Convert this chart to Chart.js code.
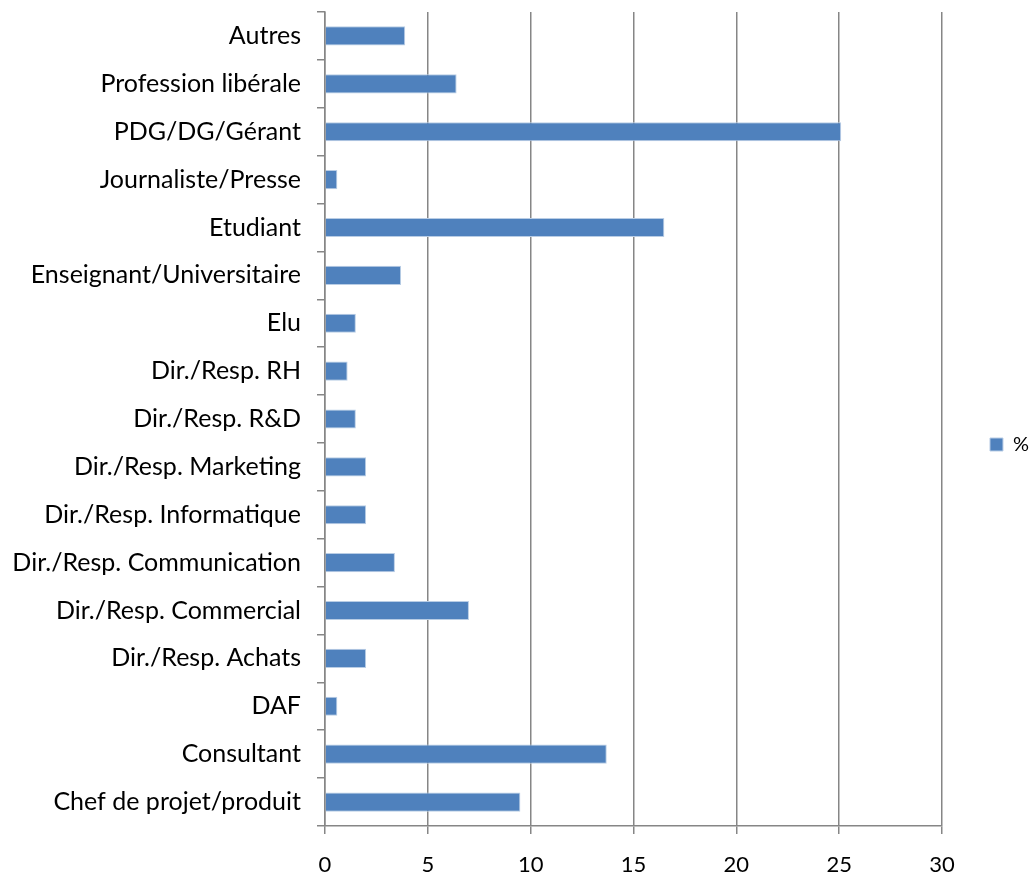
<!DOCTYPE html>
<html>
<head>
<meta charset="utf-8">
<script src="https://cdn.jsdelivr.net/npm/chart.js@4/dist/chart.umd.min.js"></script>
<style>
  html, body { margin: 0; padding: 0; background: #fff; }
  #wrap { width: 1032px; height: 877px; position: relative; }
</style>
</head>
<body>
<div id="wrap"><canvas id="chart"></canvas></div>
<script>
// categories, top to bottom
const categories = [
    'Autres', 'Profession libérale', 'PDG/DG/Gérant', 'Journaliste/Presse', 'Etudiant',
    'Enseignant/Universitaire', 'Elu', 'Dir./Resp. RH', 'Dir./Resp. R&D', 'Dir./Resp. Marketing',
    'Dir./Resp. Informatique', 'Dir./Resp. Communication', 'Dir./Resp. Commercial',
    'Dir./Resp. Achats', 'DAF', 'Consultant', 'Chef de projet/produit'
];
const percentValues = [3.9, 6.4, 25.1, 0.6, 16.5, 3.7, 1.5, 1.1, 1.5, 2.0, 2.0, 3.4, 7.0, 2.0, 0.6, 13.7, 9.5];
const seriesName = '%';
const xTicks = [0, 5, 10, 15, 20, 25, 30];

const axisGray = '#868686';
const fontFamily = 'Lato, "Open Sans", sans-serif';

new Chart(document.getElementById('chart'), {
    type: 'bar',
    data: {
        labels: categories,
        datasets: [{
            label: seriesName,
            data: percentValues,
            backgroundColor: '#4F81BD',
            borderColor: '#B9CDE5',
            borderWidth: 1,
            categoryPercentage: 1,
            barPercentage: 0.4
        }]
    },
    options: {
        indexAxis: 'y', responsive: true, maintainAspectRatio: false, animation: false,
        layout: { padding: { top: 12, right: -7, left: 4, bottom: 0 } },
        scales: {
            x: {
                min: xTicks[0], max: xTicks[xTicks.length - 1],
                afterBuildTicks: (axis) => { axis.ticks = xTicks.map(v => ({ value: v })); },
                afterFit: (scale) => { scale.height = 51; scale.paddingLeft = 0; scale.paddingRight = 0; },
                grid: { color: axisGray, lineWidth: 1.5, tickLength: 8 },
                border: { color: axisGray, width: 1.5 },
                ticks: { color: '#000', font: { family: fontFamily, size: 22 }, padding: 18 }
            },
            y: {
                afterFit: (scale) => { scale.width = 321; scale.paddingTop = 0; scale.paddingBottom = 0; },
                grid: { drawOnChartArea: false, color: axisGray, lineWidth: 1.5, tickLength: 8 },
                border: { color: axisGray, width: 1.5 },
                ticks: { color: '#000', font: { family: fontFamily, size: 25 }, padding: 16, autoSkip: false }
            }
        },
        plugins: {
            legend: {
                position: 'right',
                labels: {
                    color: '#000', font: { family: fontFamily, size: 20 },
                    boxWidth: 13, boxHeight: 13, padding: 48
                }
            },
            tooltip: { enabled: false }
        }
    }
});
</script>
</body>
</html>
